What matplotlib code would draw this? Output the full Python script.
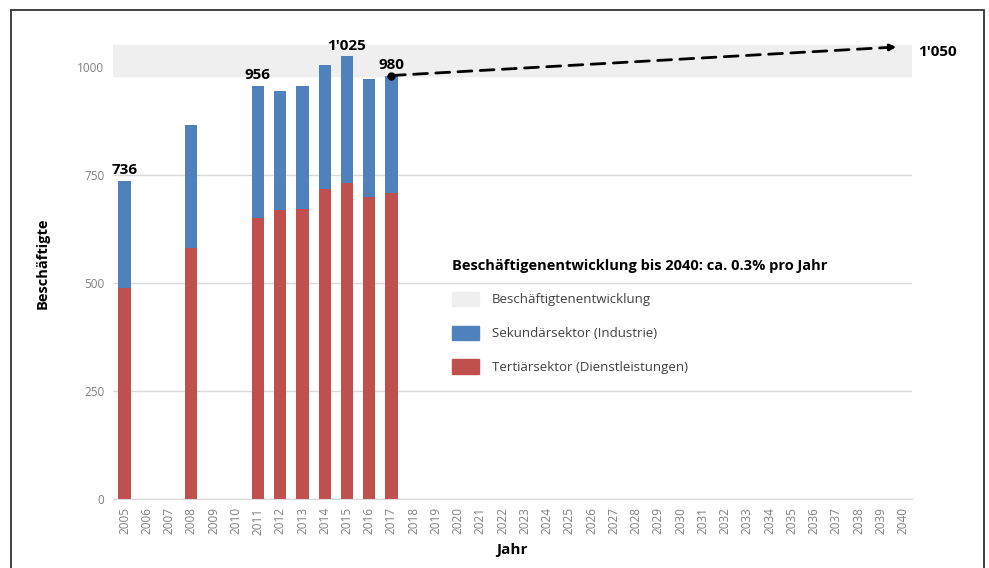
import matplotlib.pyplot as plt
from matplotlib.patches import Patch, Rectangle

# data
years = [2005, 2008, 2011, 2012, 2013, 2014, 2015, 2016, 2017]
tertiaer = [488, 580, 650, 668, 672, 717, 732, 699, 708]
sekundaer = [248, 285, 306, 276, 284, 287, 293, 273, 272]
all_years = list(range(2005, 2041))
band_low, band_high = 980, 1050
trend_years = [2017, 2040]
trend_values = [980, 1050]
labelled = {2005: "736", 2011: "956", 2015: "1'025", 2017: "980"}
y_ticks = [0, 250, 500, 750, 1000]

blue = "#4f81bd"
red = "#c0504d"
band_col = "#efefef"

plt.rcParams['font.family'] = ['Open Sans', 'DejaVu Sans']

fig = plt.figure(figsize=(9.89, 5.68), dpi=100)
ax = fig.add_axes([0.114, 0.1215, 0.808, 0.83])

# outer frame of the clipped picture
fig.patches.append(Rectangle((11 / 989, -0.05), 973 / 989, 1.05 - 10 / 568,
                             transform=fig.transFigure, fill=False,
                             edgecolor="#333333", linewidth=1.3))

ax.axhspan(band_low, band_high, color=band_col, zorder=1.5)
ax.bar(years, tertiaer, width=0.55, color=red, zorder=2)
ax.bar(years, sekundaer, width=0.55, bottom=tertiaer, color=blue, zorder=2)

ax.annotate("", xy=(2039.7, 1046), xytext=(trend_years[0], trend_values[0]),
            arrowprops=dict(arrowstyle="-|>", linestyle=(0, (5, 3)), lw=2,
                            color="black", mutation_scale=9, shrinkA=0, shrinkB=0),
            zorder=4)
ax.plot([trend_years[0]], [trend_values[0]], 'o', color="black", ms=5, zorder=5)
ax.text(2040.7, 1034, "1'050", fontsize=11, fontweight="bold",
        va="center", ha="left")

totals = [t + s for t, s in zip(tertiaer, sekundaer)]
for yr, tot in zip(years, totals):
    if yr in labelled:
        ax.text(yr, tot + 8, labelled[yr], ha="center", va="bottom",
                fontsize=11, fontweight="bold", zorder=5)

ax.set_xlim(2004.47, 2040.4)
ax.set_ylim(0, 1091)
ax.set_xticks(all_years)
ax.set_xticklabels([str(y) for y in all_years], rotation=90, fontsize=8.5,
                   color="#7f7f7f")
ax.set_yticks(y_ticks)
ax.set_yticklabels([str(v) for v in y_ticks], fontsize=8.5, color="#7f7f7f")
ax.tick_params(length=0, pad=6)
ax.grid(axis='y', color="#d9d9d9", linewidth=1)
ax.set_axisbelow(True)
for s in ['top', 'right', 'left']:
    ax.spines[s].set_visible(False)
ax.spines['bottom'].set_color("#d9d9d9")

ax.set_ylabel("Beschäftigte", fontsize=10.5, fontweight="bold", labelpad=20)
ax.set_xlabel("Jahr", fontsize=11, fontweight="bold", labelpad=6)

handles = [Patch(color=band_col), Patch(color=blue), Patch(color=red)]
names = ["Beschäftigtenentwicklung", "Sekundärsektor (Industrie)",
         "Tertiärsektor (Dienstleistungen)"]
leg = ax.legend(handles, names, title="Beschäftigenentwicklung bis 2040: ca. 0.3% pro Jahr",
                loc="upper left", bbox_to_anchor=(0.402, 0.549), frameon=False,
                fontsize=9.5, handlelength=2.0, handleheight=1.3, borderpad=0.9,
                labelspacing=1.45, handletextpad=1.0, alignment="left",
                title_fontproperties={'weight': 'bold', 'size': 10.5})
for t in leg.get_texts():
    t.set_color("#404040")

fig.savefig("out.png", dpi=100)
